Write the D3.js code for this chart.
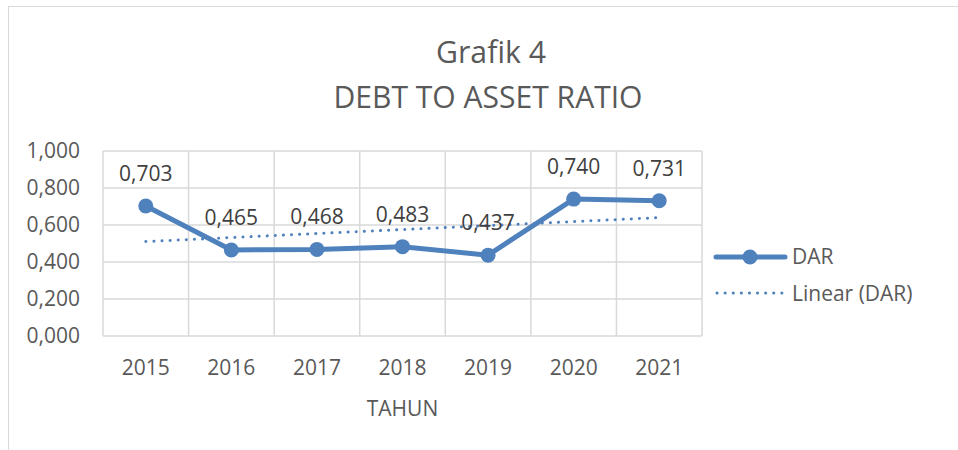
<!DOCTYPE html>
<html>
<head>
<meta charset="utf-8">
<script src="https://cdn.jsdelivr.net/npm/d3@7"></script>
<style>
  body { margin: 0; background: #fff; }
  text { font-family: "Open Sans", sans-serif; fill: #595959; }
</style>
</head>
<body>
<div id="chart"></div>
<script>
// chart data
var years = ["2015", "2016", "2017", "2018", "2019", "2020", "2021"];
var dar = [0.703, 0.465, 0.468, 0.483, 0.437, 0.740, 0.731];
var yTicks = [0, 0.2, 0.4, 0.6, 0.8, 1.0];

var svgWidth = 958;
var svgHeight = 450;

var margin = { top: 151, left: 103 };
var width = 599;
var height = 185;

var blue = "#4f81bd";
var fmt = function(v) { return d3.format(".3f")(v).replace(".", ","); };

var svg = d3.select("#chart")
  .append("svg")
  .attr("width", svgWidth)
  .attr("height", svgHeight);

// outer chart border (runs past the window edge)
svg.append("rect")
  .attr("x", 8.5).attr("y", 6.5)
  .attr("width", 1000).attr("height", 500)
  .attr("fill", "none")
  .attr("stroke", "#d9d9d9");

// titles
svg.append("text")
  .attr("x", 491).attr("y", 63)
  .attr("text-anchor", "middle")
  .style("font-size", "31px")
  .attr("textLength", 110)
  .attr("lengthAdjust", "spacingAndGlyphs")
  .text("Grafik 4");
svg.append("text")
  .attr("x", 488).attr("y", 108)
  .attr("text-anchor", "middle")
  .style("font-size", "31px")
  .attr("textLength", 309)
  .attr("lengthAdjust", "spacingAndGlyphs")
  .text("DEBT TO ASSET RATIO");

var chartGroup = svg.append("g")
  .attr("transform", `translate(${margin.left}, ${margin.top})`);

var xScale = d3.scaleBand().domain(years).range([0, width]);
var yScale = d3.scaleLinear().domain([0, 1]).range([height, 0]);

// horizontal gridlines
chartGroup.selectAll(".hgrid")
  .data(yTicks)
  .enter()
  .append("line")
  .attr("x1", 0).attr("x2", width)
  .attr("y1", d => yScale(d)).attr("y2", d => yScale(d))
  .attr("stroke", "#d9d9d9")
  .attr("stroke-width", 1.5);

// vertical gridlines (category boundaries)
var bounds = years.map(d => xScale(d)).concat([width]);
chartGroup.selectAll(".vgrid")
  .data(bounds)
  .enter()
  .append("line")
  .attr("x1", d => d).attr("x2", d => d)
  .attr("y1", 0).attr("y2", height)
  .attr("stroke", "#d9d9d9")
  .attr("stroke-width", 1.5);

// y axis labels
var leftAxis = d3.axisLeft(yScale).tickValues(yTicks).tickFormat(fmt).tickSize(0).tickPadding(23);
var yAxis = chartGroup.append("g").call(leftAxis);
yAxis.select(".domain").remove();
yAxis.selectAll("text")
  .style("font-size", "21px")
  .style("fill", "#595959")
  .attr("font-family", null);

// x axis labels
var bottomAxis = d3.axisBottom(xScale).tickSize(0).tickPadding(24);
var xAxis = chartGroup.append("g")
  .attr("transform", `translate(0, ${height})`)
  .call(bottomAxis);
xAxis.select(".domain").remove();
xAxis.selectAll("text")
  .style("font-size", "21px")
  .style("fill", "#595959")
  .attr("font-family", null);

chartGroup.append("text")
  .attr("x", width / 2)
  .attr("y", height + 80)
  .attr("text-anchor", "middle")
  .style("font-size", "21px")
  .text("TAHUN");

// linear trendline (least squares on index 1..n)
var n = dar.length;
var xs = d3.range(1, n + 1);
var mx = d3.mean(xs), my = d3.mean(dar);
var slope = d3.sum(xs, (x, i) => (x - mx) * (dar[i] - my)) / d3.sum(xs, x => (x - mx) * (x - mx));
var icpt = my - slope * mx;
var cx = d => xScale(d) + xScale.bandwidth() / 2;

chartGroup.append("line")
  .attr("x1", cx(years[0]))
  .attr("x2", cx(years[n - 1]))
  .attr("y1", yScale(icpt + slope * 1))
  .attr("y2", yScale(icpt + slope * n))
  .attr("stroke", blue)
  .attr("stroke-width", 3)
  .attr("stroke-linecap", "round")
  .attr("stroke-dasharray", "0.1 8");

// DAR line
var line = d3.line()
  .x((d, i) => cx(years[i]))
  .y(d => yScale(d));

chartGroup.append("path")
  .datum(dar)
  .attr("d", line)
  .attr("fill", "none")
  .attr("stroke", blue)
  .attr("stroke-width", 5)
  .attr("stroke-linejoin", "round");

chartGroup.selectAll("circle")
  .data(dar)
  .enter()
  .append("circle")
  .attr("cx", (d, i) => cx(years[i]))
  .attr("cy", d => yScale(d))
  .attr("r", 7.5)
  .attr("fill", blue);

// data labels
chartGroup.selectAll(".lbl")
  .data(dar)
  .enter()
  .append("text")
  .attr("x", (d, i) => cx(years[i]))
  .attr("y", d => yScale(d) - 25)
  .attr("text-anchor", "middle")
  .style("font-size", "21px")
  .style("fill", "#404040")
  .text(d => fmt(d));

// legend
var legend = svg.append("g");
legend.append("line")
  .attr("x1", 716).attr("x2", 785)
  .attr("y1", 257).attr("y2", 257)
  .attr("stroke", blue)
  .attr("stroke-width", 5)
  .attr("stroke-linecap", "round");
legend.append("circle")
  .attr("cx", 750).attr("cy", 257).attr("r", 7.5)
  .attr("fill", blue);
legend.append("text")
  .attr("x", 792).attr("y", 264)
  .style("font-size", "21px")
  .text("DAR");
legend.append("line")
  .attr("x1", 717).attr("x2", 782)
  .attr("y1", 293).attr("y2", 293)
  .attr("stroke", blue)
  .attr("stroke-width", 3)
  .attr("stroke-linecap", "round")
  .attr("stroke-dasharray", "0.1 8");
legend.append("text")
  .attr("x", 792).attr("y", 301)
  .style("font-size", "21px")
  .text("Linear (DAR)");
</script>
</body>
</html>
